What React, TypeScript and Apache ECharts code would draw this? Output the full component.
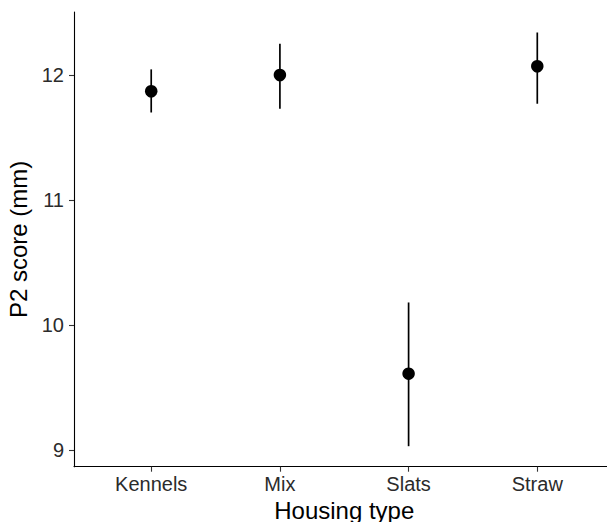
import React, { useEffect, useRef } from "react";
import * as echarts from "echarts";

const categories = ["Kennels", "Mix", "Slats", "Straw"];
const means = [11.87, 12.0, 9.61, 12.07];
const lower = [11.7, 11.73, 9.03, 11.77];
const upper = [12.045, 12.25, 10.18, 12.34];
const yTicks = [9, 10, 11, 12];
const xTicks = [1, 2, 3, 4];

const FONT = "'Liberation Sans', Arial, Helvetica, sans-serif";

export default function App() {
  const ref = useRef<HTMLDivElement>(null);
  useEffect(() => {
    if (!ref.current) return;
    const chart = echarts.init(ref.current, undefined, { renderer: "svg" });
    chart.setOption({
      animation: false,
      backgroundColor: "#ffffff",
      grid: {
        left: 74,
        top: 12,
        right: -7.5,
        bottom: 55.3,
        containLabel: false,
        outerBoundsMode: "none",
      },
      xAxis: {
        type: "value",
        min: 0.4,
        max: 4.6,
        name: "Housing type",
        nameLocation: "middle",
        nameGap: 30,
        nameTextStyle: { fontFamily: FONT, fontSize: 24, color: "#000" },
        axisLine: { show: true, onZero: false, lineStyle: { color: "#000", width: 1.1 } },
        axisTick: { show: true, customValues: xTicks, length: 5, lineStyle: { color: "#333", width: 1.1 } },
        axisLabel: {
          customValues: xTicks,
          margin: 7,
          fontFamily: FONT,
          fontSize: 20,
          color: "#2b2b2b",
          formatter: (v: number) => categories[Math.round(v) - 1] ?? "",
        },
        splitLine: { show: false },
      },
      yAxis: {
        type: "value",
        min: 8.866,
        max: 12.504,
        name: "P2 score (mm)",
        nameLocation: "middle",
        nameGap: 34,
        nameRotate: 90,
        nameTextStyle: { fontFamily: FONT, fontSize: 24, color: "#000" },
        axisLine: { show: true, onZero: false, lineStyle: { color: "#000", width: 1.1 } },
        axisTick: { show: true, customValues: yTicks, length: 5, lineStyle: { color: "#333", width: 1.1 } },
        axisLabel: {
          customValues: yTicks,
          margin: 10,
          fontFamily: FONT,
          fontSize: 20,
          color: "#2b2b2b",
          formatter: (v: number) => String(Math.round(v)),
        },
        splitLine: { show: false },
      },
      series: [
        {
          type: "custom",
          data: categories.map((_, i) => [i + 1, lower[i], upper[i]]),
          renderItem: (params: any, api: any) => {
            const x = api.value(0);
            const lo = api.coord([x, api.value(1)]);
            const hi = api.coord([x, api.value(2)]);
            return {
              type: "line",
              shape: { x1: lo[0], y1: lo[1], x2: hi[0], y2: hi[1] },
              style: { stroke: "#000", lineWidth: 1.7 },
            };
          },
          z: 1,
        },
        {
          type: "scatter",
          data: categories.map((_, i) => [i + 1, means[i]]),
          symbol: "circle",
          symbolSize: 12.5,
          itemStyle: { color: "#000", opacity: 1 },
          z: 2,
        },
      ],
    });
    return () => chart.dispose();
  }, []);
  return (
    <div
      ref={ref}
      style={{ position: "absolute", left: 0, top: 0, width: 607, height: 522 }}
    />
  );
}
